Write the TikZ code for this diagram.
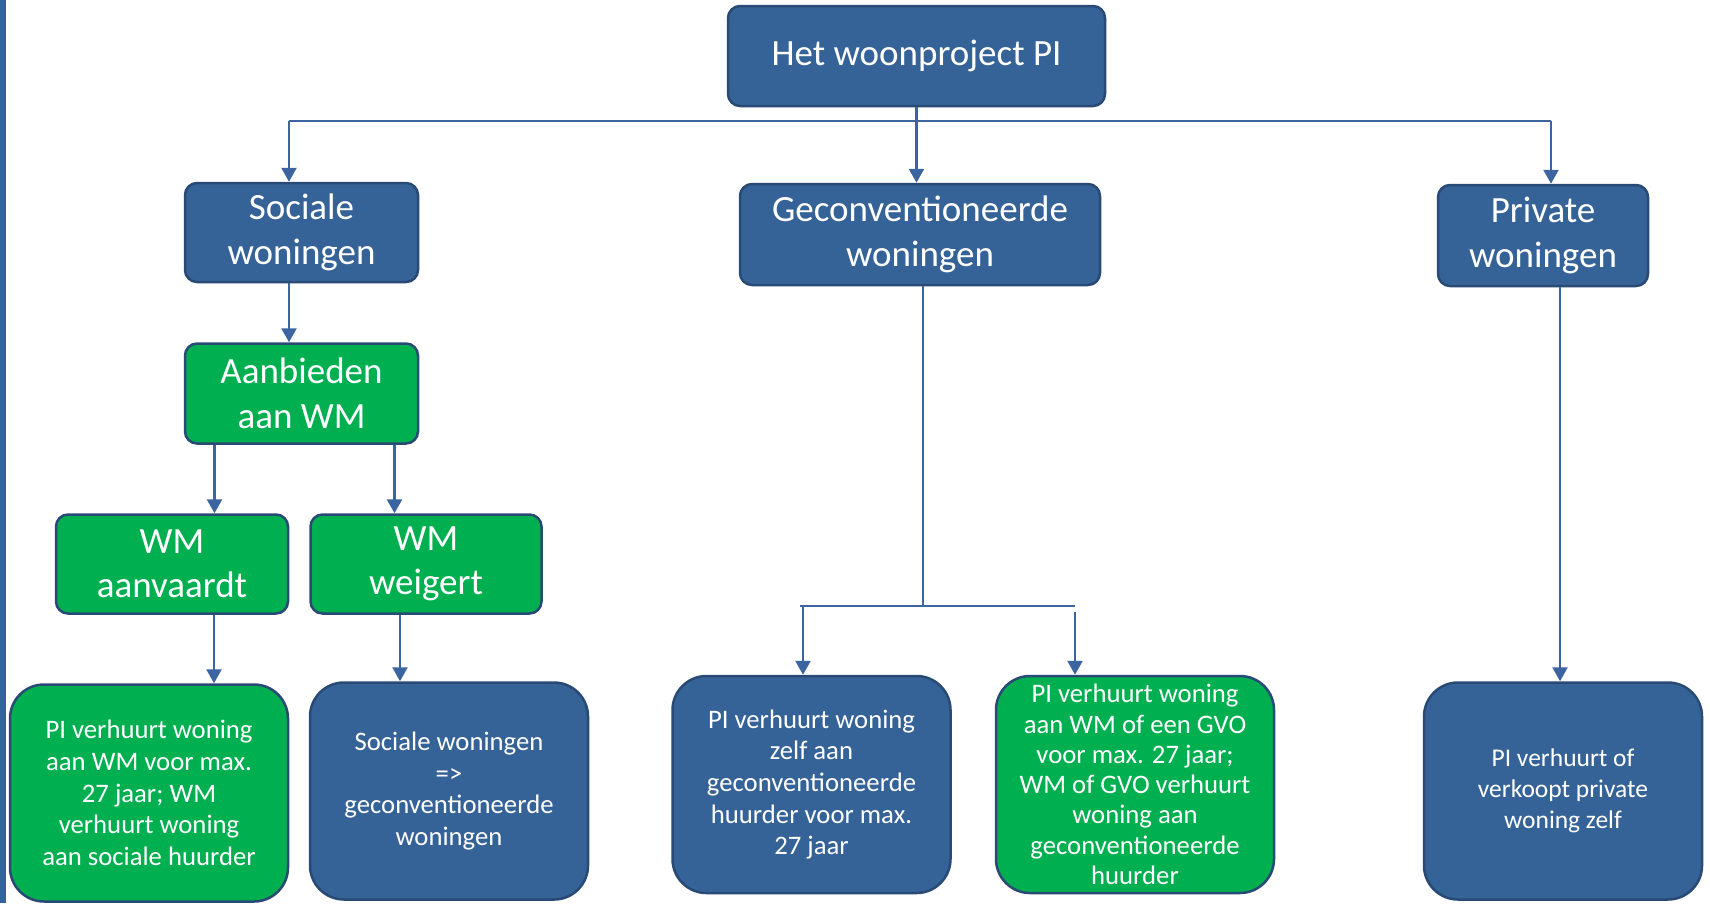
\documentclass[tikz,border=0pt]{standalone}
\usepackage{fontspec}
\setmainfont{Carlito}
\usetikzlibrary{arrows.meta,positioning}
\definecolor{pblue}{HTML}{366397}
\definecolor{pgreen}{HTML}{00B050}
\definecolor{pedge}{HTML}{284A74}
\definecolor{pline}{HTML}{3B64A0}

\begin{document}
\begin{tikzpicture}[
    x=1pt, y=-1pt,
    head/.style={draw=pedge, line width=2.5pt, rounded corners=12pt, align=center, text=white, inner sep=2pt, font=\fontsize{37}{44.5}\selectfont},
    leaf/.style={draw=pedge, line width=2.5pt, rounded corners=34pt, align=center, text=white, inner sep=2pt, minimum width=278pt, minimum height=217pt, font=\fontsize{26.7}{31.6}\selectfont},
    arrow/.style={-{Triangle[width=15pt,length=14pt]}, draw=pline, line width=2.5pt},
    wire/.style={draw=pline, line width=1.6pt}
  ]
    \useasboundingbox (0,0) rectangle (1710,903);
    \fill[pblue] (0,0) rectangle (6,903);

    \node[head, fill=pblue, minimum width=377pt, minimum height=100pt, font=\fontsize{37}{44}\selectfont] (top) at (916.5,56) {Het woonproject PI};
    \node[head, fill=pblue, minimum width=233pt, minimum height=99pt] (soc) at (301.5,232.5) {Sociale\\woningen};
    \node[head, fill=pblue, minimum width=360pt, minimum height=101pt] (gec) at (920,234.5) {Geconventioneerde\\woningen};
    \node[head, fill=pblue, minimum width=210pt, minimum height=101pt] (priv) at (1543,235.5) {Private\\woningen};
    \node[head, fill=pgreen, minimum width=233pt, minimum height=100pt, below=59pt of soc] (aan) {Aanbieden\\aan WM};
    \node[head, fill=pgreen, minimum width=232pt, minimum height=99pt] (acc) at (172,564) {WM\\aanvaardt};
    \node[head, fill=pgreen, minimum width=231pt, minimum height=99pt, right=20pt of acc] (ref) {WM\\weigert};

    \node[leaf, fill=pgreen] (acc2) at (149,793) {PI verhuurt woning\\aan WM voor max.\\27 jaar; WM\\verhuurt woning\\aan sociale huurder};
    \node[leaf, fill=pblue] (ref2) at (449,791) {Sociale woningen\\=>\\geconventioneerde\\woningen};
    \node[leaf, fill=pblue] (self) at (811.5,784.5) {PI verhuurt woning\\zelf aan\\geconventioneerde\\huurder voor max.\\27 jaar};
    \node[leaf, fill=pgreen, right=43pt of self, font=\fontsize{26.7}{30.3}\selectfont] (gvo) {PI verhuurt woning\\aan WM of een GVO\\voor max. 27 jaar;\\WM of GVO verhuurt\\woning aan\\geconventioneerde\\huurder};
    \node[leaf, fill=pblue, font=\fontsize{25.5}{31}\selectfont] (sell) at (1563,791) {PI verhuurt of\\verkoopt private\\woning zelf};

    % bus onder het woonproject
    \coordinate (busL) at (289,121);
    \coordinate (busR) at (1551,121);
    \draw[wire] (busL) -- (busR);
    \draw[arrow] (busL) -- (busL |- soc.north);
    \draw[arrow] (busR) -- (busR |- priv.north);
    \draw[arrow] (top.south) -- (top.south |- gec.north);

    % sociale woningen
    \draw[arrow] (soc.south -| busL) -- (aan.north -| busL);
    \draw[arrow] ([xshift=-87pt]aan.south) -- ([xshift=-87pt]aan.south |- acc.north);
    \draw[arrow] ([xshift=93pt]aan.south) -- ([xshift=93pt]aan.south |- ref.north);
    \draw[arrow] ([xshift=42pt]acc.south) -- ([xshift=42pt]acc.south |- acc2.north);
    \draw[arrow] ([xshift=-26pt]ref.south) -- ([xshift=-26pt]ref.south |- ref2.north);

    % geconventioneerde woningen
    \coordinate (gsplit) at (923,606);
    \coordinate (gL) at (800,606);
    \coordinate (gR) at (1075,606);
    \draw[wire] ([xshift=3pt]gec.south) -- (gsplit);
    \draw[wire] (gL) -- (gR);
    \draw[arrow] ([xshift=3pt]gL) -- ([xshift=3pt]gL |- self.north);
    \draw[arrow] ([yshift=-6pt]gR) -- (gR |- gvo.north);

    % private woningen
    \draw[arrow] ([xshift=17pt]priv.south) -- ([xshift=17pt]priv.south |- sell.north);
  \end{tikzpicture}
\end{document}
